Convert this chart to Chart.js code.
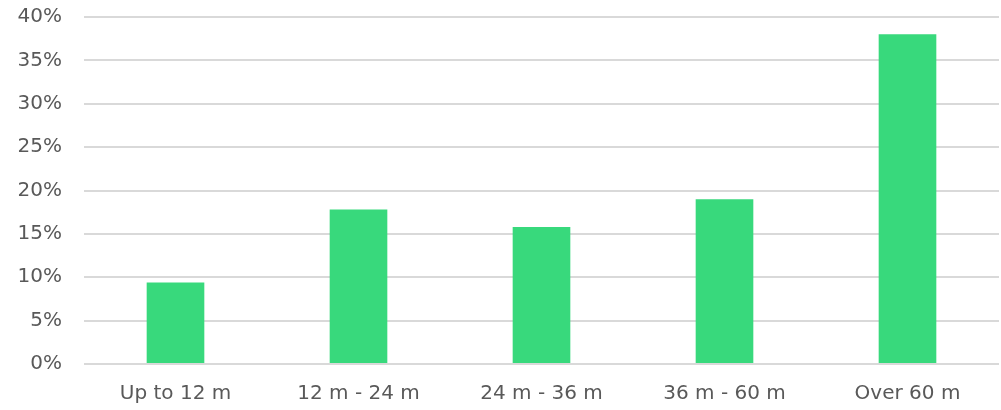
<!DOCTYPE html>
<html>
<head>
<meta charset="utf-8">
<script src="https://cdn.jsdelivr.net/npm/chart.js@4/dist/chart.umd.min.js"></script>
<style>
html,body{margin:0;padding:0;background:#fff;}
#wrap{width:1001px;height:410px;position:relative;}
</style>
</head>
<body>
<div id="wrap"><canvas id="c" width="1001" height="410"></canvas></div>
<script>
const categories = ["Up to 12 m", "12 m - 24 m", "24 m - 36 m", "36 m - 60 m", "Over 60 m"];
const shares = [9.4, 17.8, 15.8, 19.0, 38.0];
const yMin = 0, yMax = 40, yStep = 5;

const textColor = "#595959";
const fontFamily = "'DejaVu Sans', sans-serif";

new Chart(document.getElementById("c"), {
  type: "bar",
  data: {
    labels: categories,
    datasets: [{
      data: shares,
      backgroundColor: "#38d97c",
      borderWidth: 0,
      barPercentage: 0.63,
      categoryPercentage: 0.5
    }]
  },
  options: {
    responsive: false,
    animation: false,
    devicePixelRatio: 1,
    layout: { padding: { top: 17, right: 2, left: 0, bottom: 0 } },
    plugins: { legend: { display: false }, tooltip: { enabled: false } },
    scales: {
      x: {
        grid: { display: false, drawTicks: false },
        border: { display: false },
        ticks: { color: textColor, font: { family: fontFamily, size: 20 }, padding: 18 },
        afterFit: s => { s.height = 46; s.paddingLeft = 0; s.paddingRight = 0; }
      },
      y: {
        min: yMin, max: yMax,
        grid: { color: "#d9d9d9", lineWidth: 2, drawTicks: false },
        border: { display: false },
        ticks: {
          stepSize: yStep, color: textColor,
          font: { family: fontFamily, size: 20 }, padding: 22,
          callback: v => v + "%"
        },
        afterFit: s => { s.width = 84; s.paddingTop = 0; s.paddingBottom = 0; }
      }
    }
  }
});
</script>
</body>
</html>
